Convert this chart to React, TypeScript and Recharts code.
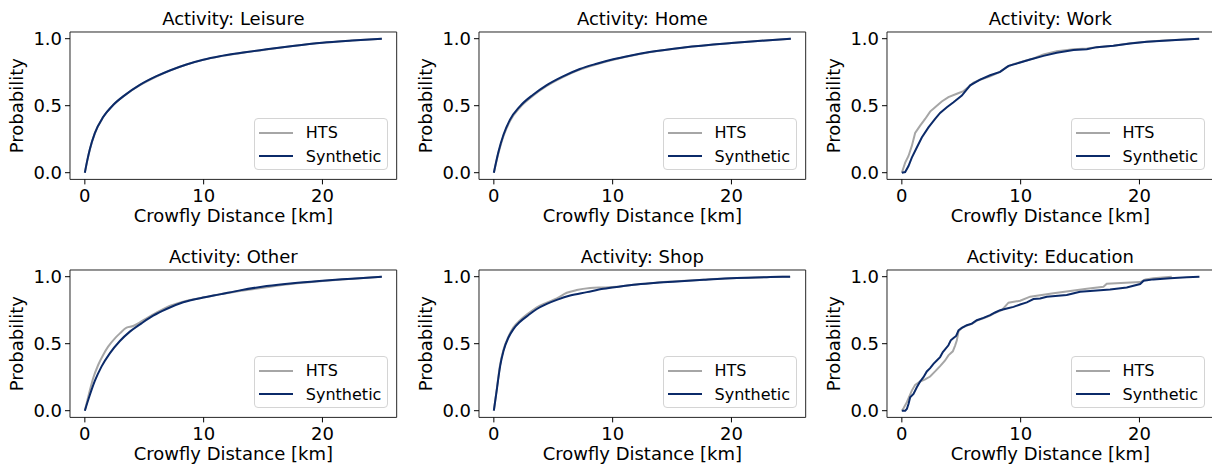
import React from 'react'
import { LineChart, Line, XAxis, YAxis, ReferenceArea, Legend } from 'recharts'

// [distance km, cumulative probability]
const leisureHts = [
  [0, 0], [0.2, 0.088], [0.42, 0.173], [0.84, 0.293], [1.54, 0.414], [2.38, 0.504], [3.37, 0.578],
  [4.63, 0.653], [6.03, 0.718], [7.15, 0.762], [8.56, 0.807], [9.96, 0.842], [11.36, 0.868],
  [13.05, 0.892], [15.3, 0.92], [17.5, 0.945], [20, 0.969], [22.5, 0.986], [25, 1.0],
]
const leisureSynthetic = [
  [0, 0], [0.2, 0.09], [0.42, 0.175], [0.84, 0.295], [1.54, 0.415], [2.38, 0.505], [3.37, 0.579],
  [4.63, 0.655], [6.03, 0.72], [7.15, 0.763], [8.56, 0.808], [9.96, 0.843], [11.36, 0.869],
  [13.05, 0.893], [15.3, 0.921], [17.5, 0.946], [20, 0.97], [22.5, 0.986], [25, 1.0],
]

const homeHts = [
  [0, 0], [0.4, 0.15], [0.81, 0.272], [1.36, 0.386], [2.19, 0.486], [3.3, 0.574], [4.42, 0.645],
  [5.82, 0.713], [7.24, 0.769], [8.65, 0.809], [10.05, 0.843], [11.45, 0.871], [13.1, 0.899],
  [16, 0.934], [20, 0.968], [22.5, 0.985], [25, 1.0],
]
const homeSynthetic = [
  [0, 0], [0.4, 0.16], [0.81, 0.283], [1.36, 0.396], [2.19, 0.495], [3.3, 0.582], [4.42, 0.652],
  [5.82, 0.719], [7.24, 0.774], [8.65, 0.813], [10.05, 0.846], [11.45, 0.873], [13.1, 0.9],
  [16, 0.935], [20, 0.968], [22.5, 0.985], [25, 1.0],
]

const workHts = [
  [0, 0], [0.28, 0.075], [0.56, 0.125], [0.84, 0.2], [1.12, 0.296], [1.54, 0.351], [1.96, 0.401],
  [2.38, 0.456], [2.8, 0.489], [3.36, 0.531], [3.92, 0.564], [4.63, 0.589], [5.19, 0.609],
  [5.61, 0.639], [6.03, 0.672], [6.59, 0.694], [7.43, 0.719], [8.27, 0.752], [8.84, 0.789],
  [9.4, 0.81], [10.24, 0.832], [11.08, 0.852], [11.92, 0.882], [13.04, 0.907], [14.45, 0.922],
  [15.57, 0.927], [16.41, 0.937], [17.81, 0.948], [19.22, 0.966], [20.62, 0.977], [22.02, 0.986],
  [23.43, 0.993], [25.03, 1.0],
]
const workSynthetic = [
  [0, 0], [0.28, 0.005], [0.56, 0.05], [0.84, 0.113], [1.26, 0.188], [1.68, 0.263], [2.24, 0.338],
  [2.8, 0.401], [3.22, 0.446], [3.79, 0.489], [4.35, 0.526], [5.05, 0.576], [5.75, 0.652],
  [6.59, 0.694], [7.43, 0.727], [8.27, 0.752], [8.98, 0.797], [9.96, 0.822], [10.8, 0.845],
  [11.92, 0.872], [13.04, 0.895], [14.45, 0.915], [15.57, 0.922], [16.41, 0.937], [17.81, 0.947],
  [19.22, 0.965], [20.62, 0.977], [22.02, 0.985], [23.43, 0.992], [25.03, 1.0],
]

const otherHts = [
  [0, 0], [0.36, 0.13], [0.7, 0.242], [1.12, 0.341], [1.54, 0.416], [1.96, 0.478], [2.53, 0.54],
  [2.95, 0.577], [3.51, 0.62], [4.07, 0.632], [4.63, 0.659], [5.33, 0.697], [6.03, 0.732],
  [6.87, 0.771], [8.28, 0.813], [9.96, 0.844], [11.36, 0.869], [13.05, 0.893], [15.3, 0.922],
  [17.5, 0.948], [20, 0.968], [22.5, 0.985], [25, 1.0],
]
const otherSynthetic = [
  [0, 0], [0.42, 0.117], [0.84, 0.222], [1.4, 0.329], [2.1, 0.428], [2.95, 0.52], [3.79, 0.59],
  [4.77, 0.652], [5.75, 0.709], [6.87, 0.759], [8.28, 0.809], [9.96, 0.844], [11.36, 0.868],
  [13.05, 0.898], [15.3, 0.93], [17.5, 0.952], [20, 0.97], [22.5, 0.985], [25, 1.0],
]

const shopHts = [
  [0, 0], [0.25, 0.163], [0.53, 0.345], [0.81, 0.454], [1.23, 0.553], [1.65, 0.622], [2.21, 0.675],
  [2.92, 0.727], [3.62, 0.772], [4.46, 0.807], [5.3, 0.838], [6.14, 0.88], [6.98, 0.9],
  [8.1, 0.915], [9.23, 0.92], [10.63, 0.927], [12.04, 0.943], [13.72, 0.956], [15.4, 0.966],
  [17.65, 0.978], [20.45, 0.99], [23.26, 0.997], [24.94, 1.0],
]
const shopSynthetic = [
  [0, 0], [0.25, 0.158], [0.53, 0.333], [0.81, 0.446], [1.23, 0.546], [1.65, 0.609], [2.21, 0.664],
  [2.92, 0.714], [3.62, 0.759], [4.46, 0.797], [5.3, 0.827], [6.42, 0.86], [7.83, 0.885],
  [9.23, 0.91], [10.63, 0.927], [12.04, 0.942], [13.72, 0.955], [15.4, 0.965], [17.65, 0.977],
  [20.45, 0.99], [23.26, 0.997], [24.94, 1.0],
]

const educationHts = [
  [0, 0], [0.14, 0.018], [0.42, 0.063], [0.84, 0.15], [1.12, 0.193], [1.54, 0.218], [1.96, 0.233],
  [2.38, 0.255], [2.8, 0.293], [3.22, 0.333], [3.64, 0.375], [3.92, 0.413], [4.29, 0.443],
  [4.49, 0.488], [4.63, 0.525], [4.77, 0.593], [5.05, 0.618], [5.47, 0.635], [5.89, 0.648],
  [6.31, 0.672], [6.87, 0.69], [7.43, 0.71], [7.85, 0.73], [8.41, 0.751], [8.98, 0.806],
  [9.96, 0.821], [10.8, 0.851], [12.76, 0.876], [14.17, 0.893], [15.57, 0.91], [16.97, 0.925],
  [17.25, 0.948], [20.06, 0.96], [20.5, 0.98], [21.18, 0.988], [22.72, 1.0],
]
const educationSynthetic = [
  [0, 0], [0.28, 0], [0.42, 0.0125], [0.56, 0.05], [0.7, 0.1], [0.98, 0.125], [1.26, 0.175],
  [1.54, 0.218], [1.82, 0.25], [2.1, 0.293], [2.38, 0.318], [2.66, 0.35], [2.94, 0.375],
  [3.22, 0.4], [3.45, 0.438], [3.64, 0.458], [3.92, 0.488], [4.12, 0.525], [4.35, 0.543],
  [4.57, 0.558], [4.77, 0.6], [5.05, 0.618], [5.47, 0.638], [5.89, 0.65], [6.31, 0.675],
  [6.87, 0.693], [7.43, 0.713], [7.85, 0.733], [8.27, 0.75], [8.84, 0.763], [9.4, 0.775],
  [9.96, 0.793], [10.52, 0.808], [11.08, 0.833], [11.64, 0.838], [12.2, 0.851], [13.88, 0.863],
  [15.0, 0.888], [16.13, 0.896], [17.53, 0.905], [18.93, 0.92], [20.06, 0.945], [20.35, 0.97],
  [21.18, 0.98], [22.58, 0.988], [23.99, 0.995], [25.05, 1.0],
]

const xTicks = [0, 10, 20]
const yTicks = [0, 0.5, 1.0]

const panels = [
  { title: 'Activity: Leisure', hts: leisureHts, synthetic: leisureSynthetic, curve: 'monotone' },
  { title: 'Activity: Home', hts: homeHts, synthetic: homeSynthetic, curve: 'monotone' },
  { title: 'Activity: Work', hts: workHts, synthetic: workSynthetic, curve: 'linear' },
  { title: 'Activity: Other', hts: otherHts, synthetic: otherSynthetic, curve: 'monotone' },
  { title: 'Activity: Shop', hts: shopHts, synthetic: shopSynthetic, curve: 'monotone' },
  { title: 'Activity: Education', hts: educationHts, synthetic: educationSynthetic, curve: 'linear' },
]

const FONT = '"DejaVu Sans", sans-serif'
const HTS_COLOR = '#a6a6a6'
const SYN_COLOR = '#0b2a69'

// plot box size and surrounding space (px)
const PLOT_W = 326.7
const PLOT_H = 147.4
const AXIS_W = 70
const TOP = 32
const AXIS_H = 50
const RIGHT = 10
const COL_X = [0.15, 408.85, 816.85]
const ROW_Y = [0, 238]

const toPoints = (pairs: number[][]) => pairs.map(([km, p]) => ({ km, p }))

const renderLegend = (props: any) => {
  const items = props.payload || []
  return (
    <div
      style={{
        position: 'relative',
        width: 134,
        height: 52,
        boxSizing: 'border-box',
        border: '1px solid #d4d4d4',
        borderRadius: 4,
        background: 'rgba(255,255,255,0.8)',
        fontFamily: FONT,
        fontSize: 16,
        color: '#000',
      }}
    >
      {items.map((item: any, i: number) => (
        <div
          key={item.value}
          style={{ position: 'absolute', left: 4, top: 2 + i * 23.3, height: 23, display: 'flex', alignItems: 'center' }}
        >
          <svg width={34} height={4}>
            <line x1={0} y1={2} x2={34} y2={2} stroke={item.color} strokeWidth={2} />
          </svg>
          <span style={{ marginLeft: 13, lineHeight: '23px', whiteSpace: 'nowrap' }}>{item.value}</span>
        </div>
      ))}
    </div>
  )
}

function Panel({ title, hts, synthetic, curve }: any) {
  const midX = AXIS_W + PLOT_W / 2
  const midY = TOP + PLOT_H / 2
  const tickStyle = { fontSize: 18, fill: '#000', fontFamily: FONT }
  return (
    <LineChart
      width={AXIS_W + PLOT_W + RIGHT}
      height={TOP + PLOT_H + AXIS_H}
      margin={{ top: TOP, right: RIGHT, bottom: 0, left: 0 }}
    >
      <XAxis
        dataKey="km"
        type="number"
        domain={[-1.25, 26.25]}
        ticks={xTicks}
        interval={0}
        allowDataOverflow
        height={AXIS_H}
        axisLine={false}
        tickLine={{ stroke: '#000' }}
        tickSize={5}
        tickMargin={5}
        tick={tickStyle}
      />
      <YAxis
        type="number"
        domain={[-0.05, 1.05]}
        ticks={yTicks}
        interval={0}
        allowDataOverflow
        width={AXIS_W}
        axisLine={false}
        tickLine={{ stroke: '#000' }}
        tickSize={5}
        tickMargin={3}
        tick={tickStyle}
        tickFormatter={(v: number) => v.toFixed(1)}
      />
      <ReferenceArea x1={-1.25} x2={26.25} y1={-0.05} y2={1.05} fill="none" stroke="#262626" strokeWidth={1} />
      <Line
        data={toPoints(hts)}
        dataKey="p"
        name="HTS"
        type={curve}
        stroke={HTS_COLOR}
        strokeWidth={2}
        dot={false}
        isAnimationActive={false}
      />
      <Line
        data={toPoints(synthetic)}
        dataKey="p"
        name="Synthetic"
        type={curve}
        stroke={SYN_COLOR}
        strokeWidth={2}
        dot={false}
        isAnimationActive={false}
      />
      <Legend
        layout="vertical"
        align="center"
        verticalAlign="middle"
        content={renderLegend}
        wrapperStyle={{ left: AXIS_W + PLOT_W - 9 - 134, top: TOP + 86.3, width: 134 }}
      />
      <text x={midX} y={25.5} textAnchor="middle" fontSize={18} fontFamily={FONT} fill="#000">
        {title}
      </text>
      <text x={midX} y={TOP + PLOT_H + 43} textAnchor="middle" fontSize={18} fontFamily={FONT} fill="#000">
        Crowfly Distance [km]
      </text>
      <text
        x={23}
        y={midY}
        transform={`rotate(-90 23 ${midY})`}
        textAnchor="middle"
        fontSize={18}
        fontFamily={FONT}
        fill="#000"
      >
        Probability
      </text>
    </LineChart>
  )
}

export default function App() {
  return (
    <div style={{ position: 'absolute', left: 0, top: 0, width: 1212, height: 472, overflow: 'hidden', background: '#fff' }}>
      {panels.map((panel, i) => (
        <div
          key={panel.title}
          style={{ position: 'absolute', left: COL_X[i % 3], top: ROW_Y[Math.floor(i / 3)] }}
        >
          <Panel {...panel} />
        </div>
      ))}
    </div>
  )
}
